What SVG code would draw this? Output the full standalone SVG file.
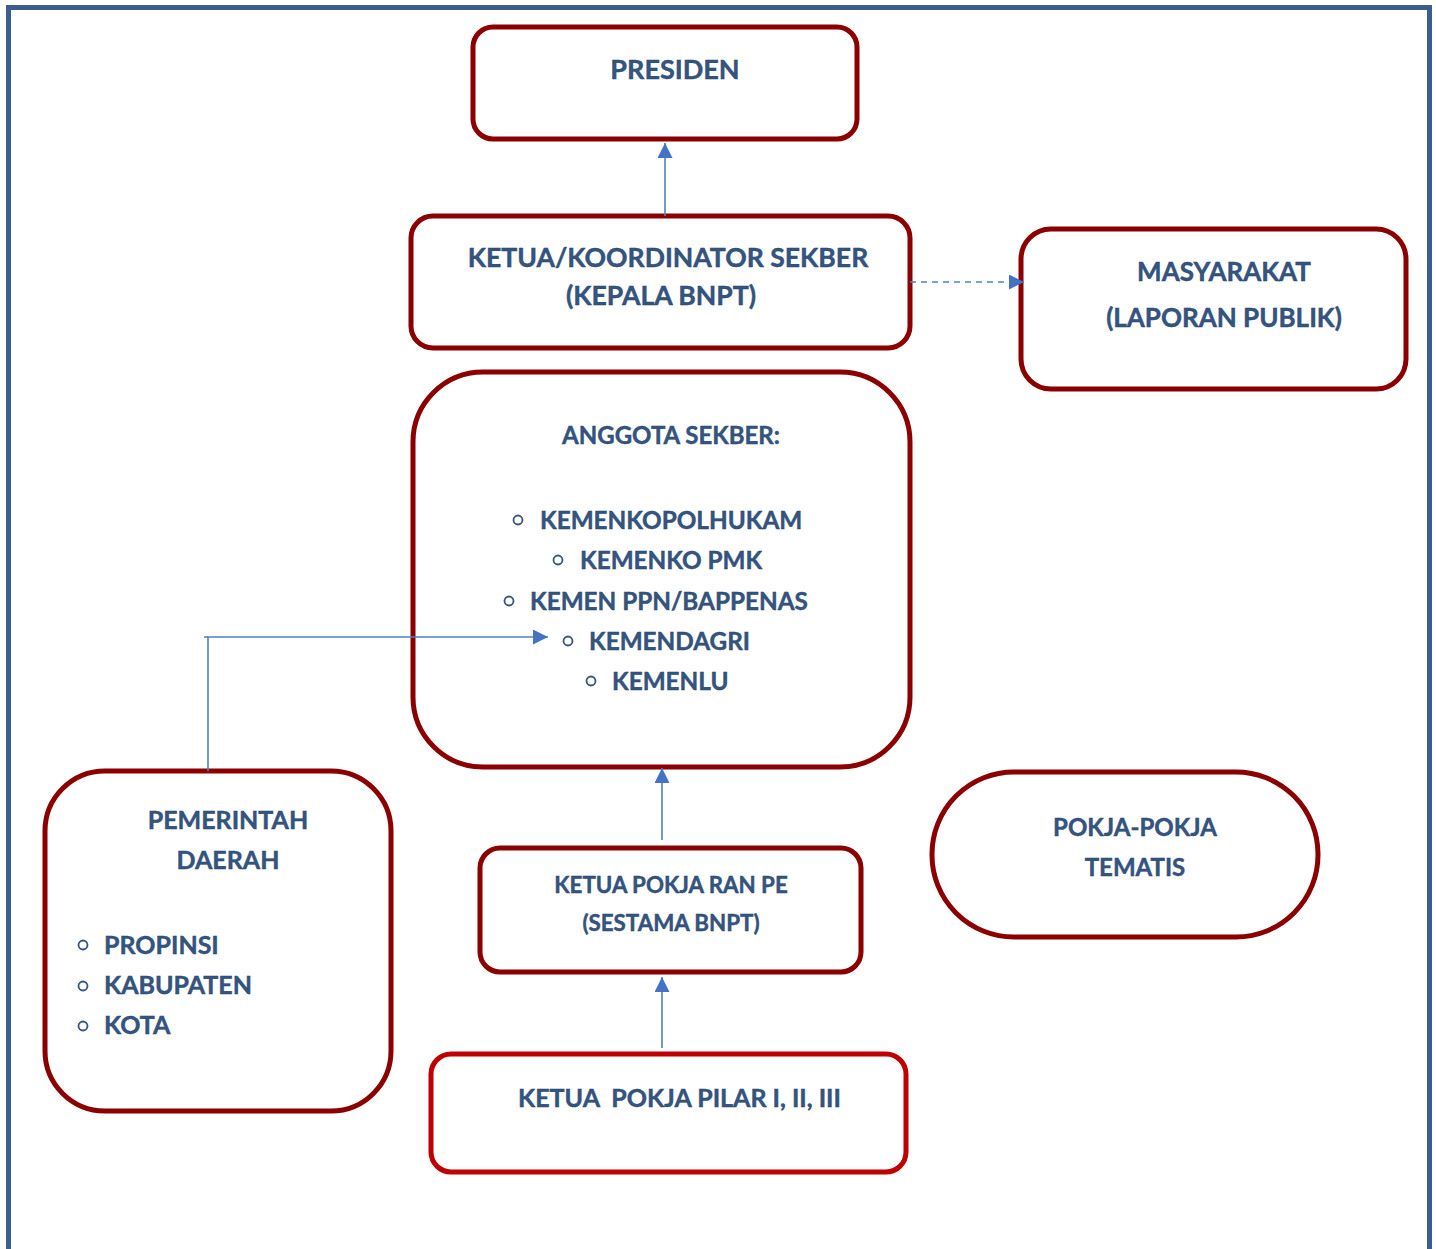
<svg xmlns="http://www.w3.org/2000/svg" width="1436" height="1249" viewBox="0 0 1436 1249">
<defs>
<style>
.box{fill:#fff;stroke:#8B0000;stroke-width:5}
.boxr{fill:#fff;stroke:#C00000;stroke-width:5}
.t{font-family:Lato,"Open Sans","Liberation Sans",sans-serif;font-weight:bold;fill:#34557F;stroke:#24406A;stroke-width:0.4}
.c{text-anchor:middle}
.bul{fill:none;stroke:#34557F;stroke-width:1.8}
.con{fill:none;stroke:#4F81BD;stroke-width:1.6}
</style>
<marker id="ah" viewBox="0 0 10 10" refX="10" refY="5" markerWidth="15" markerHeight="15" markerUnits="userSpaceOnUse" orient="auto">
<path d="M0,0 L10,5 L0,10 z" fill="#4472C4"/>
</marker>
</defs>
<rect width="1436" height="1249" fill="#fff"/>
<path d="M8.5,1249 V7.5 H1429.5 V1249" fill="none" stroke="#3A5F8F" stroke-width="5"/>

<g id="presiden">
<rect class="box" x="473" y="27" width="384" height="112" rx="20"/>
<text class="t c" x="675" y="79" font-size="27">PRESIDEN</text>
</g>

<g id="ketua-sekber">
<rect class="box" x="411" y="216" width="499" height="132" rx="22"/>
<text class="t c" x="668" y="267" font-size="26.6">KETUA/KOORDINATOR SEKBER</text>
<text class="t c" x="661" y="305" font-size="26.6">(KEPALA BNPT)</text>
</g>

<g id="masyarakat">
<rect class="box" x="1021" y="229" width="385" height="160" rx="30"/>
<text class="t c" x="1224" y="281" font-size="26">MASYARAKAT</text>
<text class="t c" x="1224" y="327" font-size="26">(LAPORAN PUBLIK)</text>
</g>

<g id="anggota-sekber">
<rect class="box" x="413" y="372" width="497" height="395" rx="70"/>
<text class="t c" x="671" y="444" font-size="24">ANGGOTA SEKBER:</text>
<circle class="bul" cx="518" cy="520" r="4.5"/>
<text class="t" x="540" y="529" font-size="24.3">KEMENKOPOLHUKAM</text>
<circle class="bul" cx="558" cy="560" r="4.5"/>
<text class="t" x="580" y="569" font-size="24.3">KEMENKO PMK</text>
<circle class="bul" cx="509" cy="601" r="4.5"/>
<text class="t" x="530" y="610" font-size="24.3">KEMEN PPN/BAPPENAS</text>
<circle class="bul" cx="568" cy="641" r="4.5"/>
<text class="t" x="589" y="650" font-size="24.3">KEMENDAGRI</text>
<circle class="bul" cx="591" cy="681" r="4.5"/>
<text class="t" x="612" y="690" font-size="24.3">KEMENLU</text>
</g>

<g id="pemerintah-daerah">
<rect class="box" x="45" y="771" width="346" height="340" rx="60"/>
<text class="t c" x="228" y="829" font-size="25">PEMERINTAH</text>
<text class="t c" x="228" y="869" font-size="25">DAERAH</text>
<circle class="bul" cx="83" cy="945" r="4.5"/>
<text class="t" x="104" y="954" font-size="25">PROPINSI</text>
<circle class="bul" cx="83" cy="986" r="4.5"/>
<text class="t" x="104" y="994" font-size="25">KABUPATEN</text>
<circle class="bul" cx="83" cy="1026" r="4.5"/>
<text class="t" x="104" y="1034" font-size="25">KOTA</text>
</g>

<g id="ketua-pokja-ran-pe">
<rect class="box" x="480" y="848" width="381" height="124" rx="20"/>
<text class="t c" x="671" y="893" font-size="22.3">KETUA POKJA RAN PE</text>
<text class="t c" x="671" y="931" font-size="22.3">(SESTAMA BNPT)</text>
</g>

<g id="ketua-pokja-pilar">
<rect class="boxr" x="431" y="1054" width="475" height="118" rx="20"/>
<text class="t" x="518" y="1107" font-size="25" xml:space="preserve">KETUA  POKJA PILAR I, II, III</text>
</g>

<g id="pokja-tematis">
<rect class="box" x="932" y="772" width="386" height="165" rx="82"/>
<text class="t c" x="1135" y="836" font-size="24">POKJA-POKJA</text>
<text class="t c" x="1135" y="876" font-size="24">TEMATIS</text>
</g>

<g id="connectors">
<line class="con" x1="665" y1="216" x2="665" y2="143" marker-end="url(#ah)"/>
<line class="con" x1="910" y1="282" x2="1024" y2="282" stroke-dasharray="6,5" marker-end="url(#ah)"/>
<polyline class="con" points="208,771 208,637 548,637" marker-end="url(#ah)"/>
<line class="con" x1="204" y1="637" x2="208" y2="637"/>
<line class="con" x1="662" y1="840" x2="662" y2="768" marker-end="url(#ah)"/>
<line class="con" x1="662" y1="1048" x2="662" y2="977" marker-end="url(#ah)"/>
</g>
</svg>
